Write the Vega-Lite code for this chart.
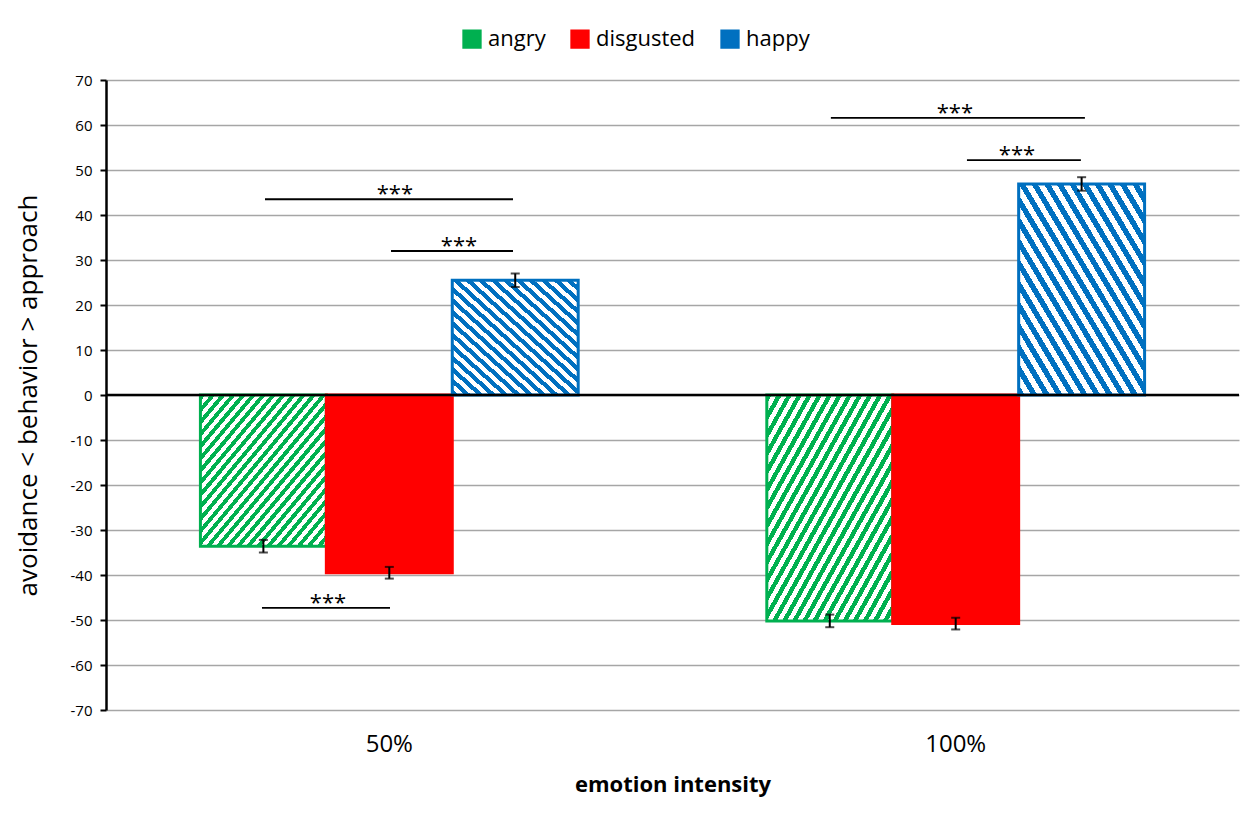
{
"$schema": "https://vega.github.io/schema/vega-lite/v6.json",
"width": 1133, "height": 630,
"autosize": {"type": "none"},
"padding": {"left": 106, "top": 80, "right": 21, "bottom": 106},
"background": "white",
"config": {"font": "Open Sans", "view": {"stroke": null}},
"datasets": {
 "bars": [
  {"intensity": "50%", "emotion": "angry", "value": -33.6, "lo": -35.0, "hi": -32.2},
  {"intensity": "50%", "emotion": "disgusted", "value": -39.5, "lo": -40.8, "hi": -38.2},
  {"intensity": "50%", "emotion": "happy", "value": 25.5, "lo": 24.0, "hi": 27.0},
  {"intensity": "100%", "emotion": "angry", "value": -50.2, "lo": -51.6, "hi": -48.8},
  {"intensity": "100%", "emotion": "disgusted", "value": -50.8, "lo": -52.1, "hi": -49.5},
  {"intensity": "100%", "emotion": "happy", "value": 46.9, "lo": 45.4, "hi": 48.4}
 ],
 "sig": [
  {"x1": 1.263, "x2": 3.233, "y": 43.5, "xm": 2.295},
  {"x1": 2.264, "x2": 3.233, "y": 32.0, "xm": 2.804},
  {"x1": 1.239, "x2": 2.256, "y": -47.3, "xm": 1.763},
  {"x1": 5.758, "x2": 7.776, "y": 61.6, "xm": 6.743},
  {"x1": 6.839, "x2": 7.744, "y": 52.2, "xm": 7.236}
 ]
},
"layer": [
 {
  "data": {"name": "bars"},
  "encoding": {
   "x": {"field": "intensity", "type": "nominal", "sort": ["50%", "100%"],
    "scale": {"paddingInner": 0.333, "paddingOuter": 0.1667},
    "axis": {"title": "emotion intensity", "titleFontWeight": "bold", "titleFontSize": 22, "titleColor": "black",
     "labelFontSize": 24, "labelColor": "black", "labelAngle": 0, "domain": false, "ticks": false, "labelPadding": 22, "titlePadding": 18, "grid": false}},
   "xOffset": {"field": "emotion", "type": "nominal", "sort": ["angry", "disgusted", "happy"], "scale": {"paddingInner": 0, "paddingOuter": 0}}
  },
  "layer": [
   {
    "mark": {"type": "bar", "strokeWidth": 3},
    "encoding": {
     "y": {"field": "value", "type": "quantitative", "scale": {"domain": [-70, 70], "nice": false},
      "axis": {"values": [-70, -60, -50, -40, -30, -20, -10, 0, 10, 20, 30, 40, 50, 60, 70],
       "labelExpr": "datum.value < 0 ? '-' + abs(datum.value) : '' + datum.value",
       "grid": true, "gridColor": "#A6A6A6", "gridWidth": 1.5, "domainColor": "black", "domainWidth": 2.5,
       "tickColor": "black", "tickWidth": 2, "tickSize": 6, "labelFontSize": 15, "labelColor": "black", "labelPadding": 8,
       "title": "avoidance < behavior > approach", "titleFontSize": 26, "titleFontWeight": "normal", "titleColor": "black",
       "titleX": -78, "titleY": 315, "titleBaseline": "middle", "titleAngle": -90}},
     "stroke": {"field": "emotion", "type": "nominal",
      "scale": {"domain": ["angry", "disgusted", "happy"], "range": ["#00B050", "#FF0000", "#0070C0"]},
      "legend": {"title": null, "orient": "none", "legendX": 355, "legendY": -52, "direction": "horizontal",
       "symbolType": "square", "symbolSize": 300, "symbolStrokeWidth": 2, "labelFontSize": 22, "labelColor": "black",
       "columnPadding": 21, "labelOffset": 5}},
     "fill": {"condition": [
      {"test": "datum.emotion === 'angry'", "value": {"gradient": "linear", "x1": 0, "y1": 0, "x2": 1, "y2": 1, "stops": [
       {"offset": 0, "color": "#00B050"}, {"offset": 0.02, "color": "#00B050"}, {"offset": 0.02, "color": "#FFFFFF"}, {"offset": 0.04, "color": "#FFFFFF"},
       {"offset": 0.04, "color": "#00B050"}, {"offset": 0.06, "color": "#00B050"}, {"offset": 0.06, "color": "#FFFFFF"}, {"offset": 0.08, "color": "#FFFFFF"},
       {"offset": 0.08, "color": "#00B050"}, {"offset": 0.10, "color": "#00B050"}, {"offset": 0.10, "color": "#FFFFFF"}, {"offset": 0.12, "color": "#FFFFFF"},
       {"offset": 0.12, "color": "#00B050"}, {"offset": 0.14, "color": "#00B050"}, {"offset": 0.14, "color": "#FFFFFF"}, {"offset": 0.16, "color": "#FFFFFF"},
       {"offset": 0.16, "color": "#00B050"}, {"offset": 0.18, "color": "#00B050"}, {"offset": 0.18, "color": "#FFFFFF"}, {"offset": 0.20, "color": "#FFFFFF"},
       {"offset": 0.20, "color": "#00B050"}, {"offset": 0.22, "color": "#00B050"}, {"offset": 0.22, "color": "#FFFFFF"}, {"offset": 0.24, "color": "#FFFFFF"},
       {"offset": 0.24, "color": "#00B050"}, {"offset": 0.26, "color": "#00B050"}, {"offset": 0.26, "color": "#FFFFFF"}, {"offset": 0.28, "color": "#FFFFFF"},
       {"offset": 0.28, "color": "#00B050"}, {"offset": 0.30, "color": "#00B050"}, {"offset": 0.30, "color": "#FFFFFF"}, {"offset": 0.32, "color": "#FFFFFF"},
       {"offset": 0.32, "color": "#00B050"}, {"offset": 0.34, "color": "#00B050"}, {"offset": 0.34, "color": "#FFFFFF"}, {"offset": 0.36, "color": "#FFFFFF"},
       {"offset": 0.36, "color": "#00B050"}, {"offset": 0.38, "color": "#00B050"}, {"offset": 0.38, "color": "#FFFFFF"}, {"offset": 0.40, "color": "#FFFFFF"},
       {"offset": 0.40, "color": "#00B050"}, {"offset": 0.42, "color": "#00B050"}, {"offset": 0.42, "color": "#FFFFFF"}, {"offset": 0.44, "color": "#FFFFFF"},
       {"offset": 0.44, "color": "#00B050"}, {"offset": 0.46, "color": "#00B050"}, {"offset": 0.46, "color": "#FFFFFF"}, {"offset": 0.48, "color": "#FFFFFF"},
       {"offset": 0.48, "color": "#00B050"}, {"offset": 0.50, "color": "#00B050"}, {"offset": 0.50, "color": "#FFFFFF"}, {"offset": 0.52, "color": "#FFFFFF"},
       {"offset": 0.52, "color": "#00B050"}, {"offset": 0.54, "color": "#00B050"}, {"offset": 0.54, "color": "#FFFFFF"}, {"offset": 0.56, "color": "#FFFFFF"},
       {"offset": 0.56, "color": "#00B050"}, {"offset": 0.58, "color": "#00B050"}, {"offset": 0.58, "color": "#FFFFFF"}, {"offset": 0.60, "color": "#FFFFFF"},
       {"offset": 0.60, "color": "#00B050"}, {"offset": 0.62, "color": "#00B050"}, {"offset": 0.62, "color": "#FFFFFF"}, {"offset": 0.64, "color": "#FFFFFF"},
       {"offset": 0.64, "color": "#00B050"}, {"offset": 0.66, "color": "#00B050"}, {"offset": 0.66, "color": "#FFFFFF"}, {"offset": 0.68, "color": "#FFFFFF"},
       {"offset": 0.68, "color": "#00B050"}, {"offset": 0.70, "color": "#00B050"}, {"offset": 0.70, "color": "#FFFFFF"}, {"offset": 0.72, "color": "#FFFFFF"},
       {"offset": 0.72, "color": "#00B050"}, {"offset": 0.74, "color": "#00B050"}, {"offset": 0.74, "color": "#FFFFFF"}, {"offset": 0.76, "color": "#FFFFFF"},
       {"offset": 0.76, "color": "#00B050"}, {"offset": 0.78, "color": "#00B050"}, {"offset": 0.78, "color": "#FFFFFF"}, {"offset": 0.80, "color": "#FFFFFF"},
       {"offset": 0.80, "color": "#00B050"}, {"offset": 0.82, "color": "#00B050"}, {"offset": 0.82, "color": "#FFFFFF"}, {"offset": 0.84, "color": "#FFFFFF"},
       {"offset": 0.84, "color": "#00B050"}, {"offset": 0.86, "color": "#00B050"}, {"offset": 0.86, "color": "#FFFFFF"}, {"offset": 0.88, "color": "#FFFFFF"},
       {"offset": 0.88, "color": "#00B050"}, {"offset": 0.90, "color": "#00B050"}, {"offset": 0.90, "color": "#FFFFFF"}, {"offset": 0.92, "color": "#FFFFFF"},
       {"offset": 0.92, "color": "#00B050"}, {"offset": 0.94, "color": "#00B050"}, {"offset": 0.94, "color": "#FFFFFF"}, {"offset": 0.96, "color": "#FFFFFF"},
       {"offset": 0.96, "color": "#00B050"}, {"offset": 0.98, "color": "#00B050"}, {"offset": 0.98, "color": "#FFFFFF"}, {"offset": 1, "color": "#FFFFFF"}
      ]}},
      {"test": "datum.emotion === 'happy'", "value": {"gradient": "linear", "x1": 0, "y1": 1, "x2": 1, "y2": 0, "stops": [
       {"offset": 0, "color": "#0070C0"}, {"offset": 0.025, "color": "#0070C0"}, {"offset": 0.025, "color": "#FFFFFF"}, {"offset": 0.05, "color": "#FFFFFF"},
       {"offset": 0.05, "color": "#0070C0"}, {"offset": 0.075, "color": "#0070C0"}, {"offset": 0.075, "color": "#FFFFFF"}, {"offset": 0.1, "color": "#FFFFFF"},
       {"offset": 0.1, "color": "#0070C0"}, {"offset": 0.125, "color": "#0070C0"}, {"offset": 0.125, "color": "#FFFFFF"}, {"offset": 0.15, "color": "#FFFFFF"},
       {"offset": 0.15, "color": "#0070C0"}, {"offset": 0.175, "color": "#0070C0"}, {"offset": 0.175, "color": "#FFFFFF"}, {"offset": 0.2, "color": "#FFFFFF"},
       {"offset": 0.2, "color": "#0070C0"}, {"offset": 0.225, "color": "#0070C0"}, {"offset": 0.225, "color": "#FFFFFF"}, {"offset": 0.25, "color": "#FFFFFF"},
       {"offset": 0.25, "color": "#0070C0"}, {"offset": 0.275, "color": "#0070C0"}, {"offset": 0.275, "color": "#FFFFFF"}, {"offset": 0.3, "color": "#FFFFFF"},
       {"offset": 0.3, "color": "#0070C0"}, {"offset": 0.325, "color": "#0070C0"}, {"offset": 0.325, "color": "#FFFFFF"}, {"offset": 0.35, "color": "#FFFFFF"},
       {"offset": 0.35, "color": "#0070C0"}, {"offset": 0.375, "color": "#0070C0"}, {"offset": 0.375, "color": "#FFFFFF"}, {"offset": 0.4, "color": "#FFFFFF"},
       {"offset": 0.4, "color": "#0070C0"}, {"offset": 0.425, "color": "#0070C0"}, {"offset": 0.425, "color": "#FFFFFF"}, {"offset": 0.45, "color": "#FFFFFF"},
       {"offset": 0.45, "color": "#0070C0"}, {"offset": 0.475, "color": "#0070C0"}, {"offset": 0.475, "color": "#FFFFFF"}, {"offset": 0.5, "color": "#FFFFFF"},
       {"offset": 0.5, "color": "#0070C0"}, {"offset": 0.525, "color": "#0070C0"}, {"offset": 0.525, "color": "#FFFFFF"}, {"offset": 0.55, "color": "#FFFFFF"},
       {"offset": 0.55, "color": "#0070C0"}, {"offset": 0.575, "color": "#0070C0"}, {"offset": 0.575, "color": "#FFFFFF"}, {"offset": 0.6, "color": "#FFFFFF"},
       {"offset": 0.6, "color": "#0070C0"}, {"offset": 0.625, "color": "#0070C0"}, {"offset": 0.625, "color": "#FFFFFF"}, {"offset": 0.65, "color": "#FFFFFF"},
       {"offset": 0.65, "color": "#0070C0"}, {"offset": 0.675, "color": "#0070C0"}, {"offset": 0.675, "color": "#FFFFFF"}, {"offset": 0.7, "color": "#FFFFFF"},
       {"offset": 0.7, "color": "#0070C0"}, {"offset": 0.725, "color": "#0070C0"}, {"offset": 0.725, "color": "#FFFFFF"}, {"offset": 0.75, "color": "#FFFFFF"},
       {"offset": 0.75, "color": "#0070C0"}, {"offset": 0.775, "color": "#0070C0"}, {"offset": 0.775, "color": "#FFFFFF"}, {"offset": 0.8, "color": "#FFFFFF"},
       {"offset": 0.8, "color": "#0070C0"}, {"offset": 0.825, "color": "#0070C0"}, {"offset": 0.825, "color": "#FFFFFF"}, {"offset": 0.85, "color": "#FFFFFF"},
       {"offset": 0.85, "color": "#0070C0"}, {"offset": 0.875, "color": "#0070C0"}, {"offset": 0.875, "color": "#FFFFFF"}, {"offset": 0.9, "color": "#FFFFFF"},
       {"offset": 0.9, "color": "#0070C0"}, {"offset": 0.925, "color": "#0070C0"}, {"offset": 0.925, "color": "#FFFFFF"}, {"offset": 0.95, "color": "#FFFFFF"},
       {"offset": 0.95, "color": "#0070C0"}, {"offset": 0.975, "color": "#0070C0"}, {"offset": 0.975, "color": "#FFFFFF"}, {"offset": 1, "color": "#FFFFFF"}
      ]}}
     ], "value": {"expr": "datum.value === 'angry' ? '#00B050' : (datum.value === 'happy' ? '#0070C0' : '#FF0000')"}}
    }
   },
   {
    "mark": {"type": "rule", "color": "black", "strokeWidth": 2},
    "encoding": {"y": {"field": "lo", "type": "quantitative"}, "y2": {"field": "hi"}}
   },
   {
    "mark": {"type": "tick", "color": "black", "thickness": 2, "size": 9, "orient": "horizontal"},
    "encoding": {"y": {"field": "lo", "type": "quantitative"}}
   },
   {
    "mark": {"type": "tick", "color": "black", "thickness": 2, "size": 9, "orient": "horizontal"},
    "encoding": {"y": {"field": "hi", "type": "quantitative"}}
   }
  ]
 },
 {
  "layer": [
   {
    "data": {"values": [{"v": 0}]},
    "mark": {"type": "rule", "color": "black", "strokeWidth": 2.5},
    "encoding": {"y": {"field": "v", "type": "quantitative"}}
   },
   {
    "data": {"name": "sig"},
    "mark": {"type": "rule", "color": "black", "strokeWidth": 1.8},
    "encoding": {
     "x": {"field": "x1", "type": "quantitative", "scale": {"domain": [0, 9], "nice": false, "zero": false}, "axis": null},
     "x2": {"field": "x2"},
     "y": {"field": "y", "type": "quantitative"}
    }
   },
   {
    "data": {"name": "sig"},
    "mark": {"type": "text", "text": "***", "fontSize": 22, "color": "black", "baseline": "alphabetic", "dy": 2},
    "encoding": {
     "x": {"field": "xm", "type": "quantitative", "scale": {"domain": [0, 9], "nice": false, "zero": false}, "axis": null},
     "y": {"field": "y", "type": "quantitative"}
    }
   }
  ]
 }
],
"resolve": {"scale": {"x": "independent"}}
}
